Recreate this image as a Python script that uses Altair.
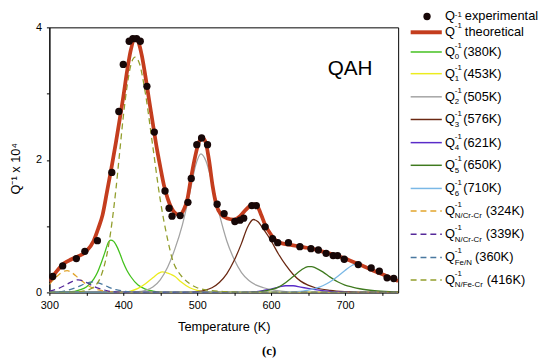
import altair as alt
import pandas as pd

# ---------------- data ----------------
exp_T = [304.5, 318, 336.5, 348, 365, 384.5, 394, 400, 408, 413, 418, 423, 432, 442, 456.5, 462, 466, 477,
         487.5, 492, 499.5, 506, 514, 527, 536.5, 551, 558, 563, 574, 580, 592, 602, 609, 623.5, 639, 654,
         664, 674.5, 684, 690, 699, 718, 735.5, 746.5, 757, 766]
exp_Q = [0.24, 0.40, 0.51, 0.62, 0.78, 1.81, 2.73, 3.44, 3.79, 3.83, 3.83, 3.79, 3.11, 2.42, 1.53, 1.27, 1.15, 1.16,
         1.36, 1.72, 2.23, 2.33, 2.23, 1.33, 1.19, 1.07, 1.09, 1.12, 1.31, 1.31, 0.99, 0.81, 0.75, 0.75, 0.69, 0.66,
         0.64, 0.59, 0.555, 0.555, 0.50, 0.42, 0.37, 0.32, 0.22, 0.21]

theo_T = [300, 310, 320, 330, 340, 350, 360, 366, 372, 378, 384, 390, 395, 400, 405, 410, 416, 420, 425, 430,
          435, 440, 445, 450, 455, 460, 465, 470, 476, 482, 487, 491, 496, 501, 506, 511, 516, 521, 526, 532,
          540, 550, 558, 566, 572, 577, 582, 587, 592, 600, 607, 615, 625, 635, 645, 655, 665, 675, 685, 695,
          705, 718, 730, 742, 754, 764, 772]
theo_Q = [0.16, 0.32, 0.44, 0.50, 0.55, 0.62, 0.78, 0.96, 1.17, 1.52, 1.88, 2.26, 2.60, 2.95, 3.33, 3.65, 3.83, 3.79, 3.58, 3.26,
          2.90, 2.55, 2.20, 1.90, 1.62, 1.42, 1.28, 1.20, 1.17, 1.25, 1.42, 1.68, 1.98, 2.22, 2.34, 2.28, 2.00, 1.60, 1.32, 1.18,
          1.12, 1.10, 1.15, 1.25, 1.31, 1.33, 1.29, 1.16, 1.02, 0.87, 0.78, 0.74, 0.72, 0.70, 0.68, 0.66, 0.63, 0.60, 0.57, 0.53,
          0.49, 0.43, 0.37, 0.31, 0.26, 0.21, 0.17]

q0_T = [300, 330, 340, 350, 360, 365, 370, 375, 380, 383, 387, 390, 395, 400, 405, 410, 420, 430, 440, 455, 772]
q0_Q = [0.0, 0.01, 0.035, 0.08, 0.20, 0.30, 0.44, 0.60, 0.76, 0.79, 0.77, 0.72, 0.60, 0.45, 0.33, 0.24, 0.11, 0.05, 0.02, 0.0, 0.0]

q1_T = [300, 400, 410, 420, 430, 440, 448, 453, 458, 465, 470, 478, 490, 500, 515, 772]
q1_Q = [0.0, 0.0, 0.02, 0.06, 0.13, 0.22, 0.29, 0.31, 0.30, 0.27, 0.24, 0.16, 0.07, 0.03, 0.0, 0.0]

q2_T = [300, 420, 430, 440, 450, 460, 470, 480, 490, 498, 505, 512, 520, 530, 540, 550, 560, 570, 580, 590, 600, 620, 640, 772]
q2_Q = [0.0, 0.01, 0.03, 0.08, 0.19, 0.38, 0.66, 1.02, 1.50, 1.92, 2.09, 1.98, 1.66, 1.18, 0.78, 0.50, 0.30, 0.18, 0.11, 0.07, 0.04, 0.01, 0.0, 0.0]

q3_T = [300, 490, 500, 510, 520, 530, 540, 550, 560, 568, 576, 582, 590, 600, 610, 620, 630, 640, 650, 660, 680, 700, 720, 772]
q3_Q = [0.0, 0.0, 0.01, 0.03, 0.07, 0.15, 0.28, 0.48, 0.74, 0.98, 1.10, 1.07, 0.95, 0.78, 0.58, 0.41, 0.27, 0.17, 0.11, 0.07, 0.03, 0.01, 0.0, 0.0]

q4_T = [300, 560, 580, 590, 600, 610, 620, 630, 640, 650, 660, 680, 700, 720, 772]
q4_Q = [0.0, 0.0, 0.01, 0.03, 0.05, 0.08, 0.10, 0.10, 0.08, 0.06, 0.04, 0.015, 0.005, 0.0, 0.0]

q5_T = [300, 570, 590, 600, 610, 620, 630, 640, 650, 655, 660, 670, 680, 690, 700, 710, 720, 740, 760, 772]
q5_Q = [0.0, 0.0, 0.02, 0.04, 0.08, 0.15, 0.24, 0.33, 0.39, 0.39, 0.37, 0.31, 0.23, 0.16, 0.11, 0.08, 0.055, 0.025, 0.01, 0.005]

q6_T = [300, 610, 640, 650, 660, 670, 680, 690, 700, 710, 715, 720, 730, 740, 750, 760, 772]
q6_Q = [0.0, 0.0, 0.015, 0.035, 0.06, 0.10, 0.16, 0.24, 0.33, 0.41, 0.43, 0.42, 0.38, 0.33, 0.28, 0.23, 0.18]

ncr1_T = [300, 310, 318, 324, 330, 340, 350, 360, 370, 380, 395, 772]
ncr1_Q = [0.12, 0.24, 0.31, 0.33, 0.30, 0.21, 0.12, 0.06, 0.03, 0.01, 0.0, 0.0]

ncr2_T = [300, 310, 320, 330, 339, 350, 360, 370, 380, 395, 772]
ncr2_Q = [0.02, 0.05, 0.10, 0.16, 0.19, 0.15, 0.09, 0.05, 0.02, 0.0, 0.0]

fen_T = [300, 320, 330, 340, 350, 360, 370, 380, 390, 400, 415, 772]
fen_Q = [0.0, 0.02, 0.05, 0.09, 0.14, 0.16, 0.13, 0.08, 0.04, 0.02, 0.0, 0.0]

nfe_T = [300, 330, 340, 350, 360, 370, 380, 390, 395, 400, 405, 410, 416, 422, 430, 440, 450, 460, 467, 475,
         480, 490, 500, 510, 520, 540, 560, 772]
nfe_Q = [0.0, 0.0, 0.01, 0.03, 0.08, 0.25, 0.70, 1.55, 2.10, 2.65, 3.10, 3.42, 3.55, 3.45, 3.00, 2.20, 1.40, 0.80, 0.48, 0.30,
         0.23, 0.13, 0.07, 0.04, 0.025, 0.01, 0.0, 0.0]

x_ticks = [300, 350, 400, 450, 500, 550, 600, 650, 700, 750]
y_ticks = [0, 1, 2, 3, 4]

# name, T, Q, colour, dash, legend subscript, legend text
components = [
    ("q0", q0_T, q0_Q, "#43c11d", None, "0", "(380K)"),
    ("q1", q1_T, q1_Q, "#ecec1e", None, "1", "(453K)"),
    ("q2", q2_T, q2_Q, "#a3a3a3", None, "2", "(505K)"),
    ("q3", q3_T, q3_Q, "#6a2812", None, "3", "(576K)"),
    ("q4", q4_T, q4_Q, "#5a2cc8", None, "4", "(621K)"),
    ("q5", q5_T, q5_Q, "#3f7a1f", None, "5", "(650K)"),
    ("q6", q6_T, q6_Q, "#7ab8e6", None, "6", "(710K)"),
    ("ncr1", ncr1_T, ncr1_Q, "#e2a52c", [6, 4], "N/Cr-Cr", "(324K)"),
    ("ncr2", ncr2_T, ncr2_Q, "#55299a", [6, 4], "N/Cr-Cr", "(339K)"),
    ("fen", fen_T, fen_Q, "#4a78a0", [6, 4], "Fe/N", "(360K)"),
    ("nfe", nfe_T, nfe_Q, "#929e2c", [6, 4], "N/Fe-Cr", "(416K)"),
]

FONT = "Liberation Sans"
x_scale = alt.Scale(domain=[300, 772], nice=False, zero=False)
y_scale = alt.Scale(domain=[0, 4], nice=False)

x_axis = alt.Axis(values=x_ticks, format="d",
                  labelExpr="datum.value % 100 == 0 ? datum.label : ''",
                  labelFlush=False, labelOverlap=False,
                  title="Temperature (K)", titleFontSize=13, titleFontWeight="normal",
                  titleY=35, titleBaseline="middle",
                  labelFontSize=11, labelPadding=4, tickSize=3, grid=False,
                  domainColor="black", tickColor="black", labelColor="black", titleColor="black")
y_axis = alt.Axis(values=y_ticks, format="d",
                  labelExpr="datum.value % 2 == 0 ? datum.label : ''",
                  labelFlush=False, labelOverlap=False,
                  title="Q\u207b\u00b9 x 10\u2074", titleFontSize=13, titleFontWeight="normal",
                  titleAngle=270, titleX=-34, titleY=143, titleAlign="center", titleBaseline="middle",
                  labelFontSize=11, labelPadding=5, tickSize=3, grid=False,
                  domainColor="black", tickColor="black", labelColor="black", titleColor="black")

X = alt.X("T:Q", scale=x_scale, axis=x_axis)
Y = alt.Y("Q:Q", scale=y_scale, axis=y_axis)

layers = []
for name, T, Q, col, dash, sub, txt in components:
    df = pd.DataFrame({"T": T, "Q": Q})
    kw = dict(color=col, strokeWidth=1.3, interpolate="monotone", clip=True)
    if dash:
        kw["strokeDash"] = dash
    layers.append(alt.Chart(df).mark_line(**kw).encode(x=X, y=Y))

theo = alt.Chart(pd.DataFrame({"T": theo_T, "Q": theo_Q})).mark_line(
    color="#c43d1e", strokeWidth=3.8, interpolate="monotone", clip=True).encode(x=X, y=Y)
layers.append(theo)

pts = alt.Chart(pd.DataFrame({"T": exp_T, "Q": exp_Q})).mark_circle(
    size=55, color="#170707", opacity=1).encode(x=X, y=Y)
layers.append(pts)

label_df = pd.DataFrame({"T": [707], "Q": [3.37], "txt": ["QAH"]})
layers.append(alt.Chart(label_df).mark_text(fontSize=21, font=FONT, align="center", baseline="middle",
                                            color="black").encode(x=X, y=Y, text="txt:N"))

# ---------------- manual legend ----------------
row_y = [-11, 5, 25, 47, 70.5, 93.5, 117, 140, 163.5, 186.5, 210, 233.5, 256.5]
one = pd.DataFrame({"a": [0]})
LX0, LX1 = 366.7, 398.3

layers.append(alt.Chart(one).mark_circle(size=55, color="#170707", opacity=1).encode(
    x=alt.value(383.3), y=alt.value(row_y[0])))
layers.append(alt.Chart(one).mark_rule(color="#c43d1e", strokeWidth=4).encode(
    x=alt.value(LX0), x2=alt.value(LX1), y=alt.value(row_y[1])))

legend_rows = [("", "experimental", 421.7), ("", "theoretical", 421.7)]
rest_x = {"0": 420, "1": 420, "2": 420, "3": 420, "4": 420, "5": 420, "6": 420,
          "N/Cr-Cr": 443, "Fe/N": 432, "N/Fe-Cr": 444}
for i, (name, T, Q, col, dash, sub, txt) in enumerate(components):
    ry = row_y[i + 2]
    kw = dict(color=col, strokeWidth=1.5)
    if dash:
        kw["strokeDash"] = [6, 4]
    layers.append(alt.Chart(one).mark_rule(**kw).encode(
        x=alt.value(LX0), x2=alt.value(LX1), y=alt.value(ry)))
    legend_rows.append((sub, txt, rest_x[sub]))

for i, (sub, txt, rx) in enumerate(legend_rows):
    ry = row_y[i]
    layers.append(alt.Chart(one).mark_text(text="Q", fontSize=13, font=FONT, align="left",
                                           baseline="middle", color="black").encode(
        x=alt.value(401.5), y=alt.value(ry)))
    if i == 0:
        sup_layer = alt.Chart(one).mark_text(text="-1", fontSize=8, font=FONT, align="left",
                                             baseline="top", color="black").encode(
            x=alt.value(411.5), y=alt.value(-17))
    else:
        sup_layer = alt.Chart(one).mark_text(text="-1", fontSize=8, font=FONT, align="left",
                                             baseline="middle", color="black").encode(
            x=alt.value(411.5), y=alt.value(ry - 6))
    layers.append(sup_layer)
    if sub:
        layers.append(alt.Chart(one).mark_text(text=sub, fontSize=8, font=FONT, align="left",
                                               baseline="middle", color="black").encode(
            x=alt.value(411.5), y=alt.value(ry + 5.5)))
    layers.append(alt.Chart(one).mark_text(text=txt, fontSize=13, font=FONT, align="left",
                                           baseline="middle", color="black").encode(
        x=alt.value(rx), y=alt.value(ry)))

layers.append(alt.Chart(one).mark_text(text="(c)", fontSize=13, font="Liberation Serif", fontWeight="bold",
                                       align="center", baseline="middle", color="black").encode(
    x=alt.value(223), y=alt.value(329)))

chart = alt.layer(*layers).properties(
    width=354, height=269,
    padding={"left": 42, "top": 17, "right": 146, "bottom": 68},
    autosize=alt.AutoSizeParams(type="none"),
).configure_view(stroke="black", strokeWidth=1).configure_axis(
    labelFont=FONT, titleFont=FONT, domainWidth=1, tickWidth=1
)

chart.save("out.html", embed_options={"renderer": "svg", "actions": False})
